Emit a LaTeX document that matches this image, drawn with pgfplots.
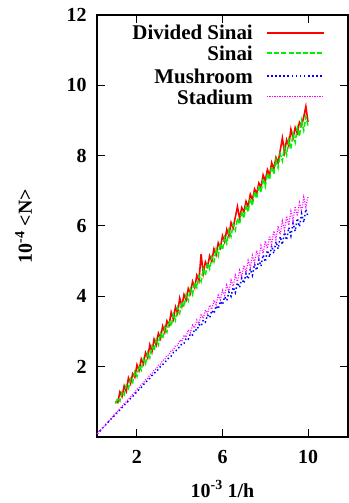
\documentclass[border=0pt]{standalone}
\usepackage{pgfplots}
\pgfplotsset{compat=1.18}
\usepackage{fontspec}
\setmainfont{Liberation Serif}
\definecolor{gpred}{RGB}{255,0,0}
\definecolor{gpgreen}{RGB}{0,240,0}
\definecolor{gpblue}{RGB}{0,0,255}
\definecolor{gpmag}{RGB}{255,0,255}
\tikzset{
  redstyle/.style={draw=gpred, line width=1.6bp},
  greenstyle/.style={draw=gpgreen, line width=1.5bp, dash pattern=on 5bp off 2bp},
  bluestyle/.style={draw=gpblue, line width=1.5bp, dash pattern=on 1.5bp off 2.5bp},
  magstyle/.style={draw=gpmag, line width=1.2bp, dash pattern=on 1bp off 1.5bp},
  legtext/.style={anchor=base east, inner sep=0pt, font=\fontsize{21}{25}\selectfont\bfseries},
}
\begin{document}
\begin{tikzpicture}[font=\fontsize{20}{24}\selectfont\bfseries]
\begin{axis}[
  scale only axis, width=251bp, height=422bp,
  xmin=0.13, xmax=11.87, ymin=0, ymax=12,
  xtick={2,6,10}, ytick={2,4,6,8,10,12},
  tick align=inside, major tick length=8bp,
  axis line style={line width=1.2bp},
  every tick/.style={black, line width=1bp},
  /pgf/number format/assume math mode=true,
  tick label style={font=\fontsize{20}{24}\selectfont\bfseries},
  xticklabel style={yshift=-10bp},
  yticklabel style={xshift=-7bp},
  xlabel={10\textsuperscript{-3} 1/h},
  ylabel={10\textsuperscript{-4} <N>},
  xlabel style={at={(axis description cs:0.5,-0.143)}, anchor=base},
  ylabel style={at={(axis description cs:-0.259,0.5)}, anchor=base, rotate=0},
  clip=false,
]
\addplot[redstyle] coordinates {
(1.0,1.02) (1.1,0.98) (1.2,1.28) (1.3,1.15) (1.4,1.45) (1.5,1.30) (1.6,1.68) (1.7,1.52) (1.8,1.80) (1.9,1.70)
(2.0,2.05) (2.1,1.90) (2.2,2.22) (2.3,2.08) (2.4,2.40) (2.5,2.25) (2.6,2.62) (2.7,2.42) (2.8,2.78) (2.9,2.62)
(3.0,2.95) (3.1,2.80) (3.2,3.15) (3.3,2.98) (3.4,3.30) (3.5,3.18) (3.6,3.55) (3.7,3.35) (3.8,3.70) (3.9,3.52)
(4.0,3.95) (4.1,3.72) (4.2,4.05) (4.3,3.90) (4.4,4.22) (4.5,4.08) (4.6,4.42) (4.7,4.25) (4.8,4.60) (4.9,4.45)
(5.0,5.20) (5.1,4.65) (5.2,4.98) (5.3,4.85) (5.4,5.15) (5.5,5.00) (5.6,5.35) (5.7,5.18) (5.8,5.52) (5.9,5.38)
(6.0,5.72) (6.1,5.55) (6.2,5.90) (6.3,5.72) (6.4,6.10) (6.5,5.95) (6.6,6.25) (6.7,6.55) (6.8,6.22) (6.9,6.52)
(7.0,6.40) (7.1,6.70) (7.2,6.55) (7.3,6.90) (7.4,6.75) (7.5,7.05) (7.6,6.92) (7.7,7.22) (7.8,7.10) (7.9,7.45)
(8.0,7.28) (8.1,7.60) (8.2,7.45) (8.3,7.80) (8.4,7.62) (8.5,7.95) (8.6,7.80) (8.7,8.15) (8.8,8.50) (8.9,8.10)
(9.0,8.45) (9.1,8.28) (9.2,8.75) (9.3,8.50) (9.4,8.80) (9.5,8.65) (9.6,8.95) (9.7,8.85) (9.8,9.10) (9.9,9.40)
(10.0,8.95)
};
\addplot[greenstyle] coordinates {
(1.0,0.95) (1.1,1.10) (1.2,1.02) (1.3,1.28) (1.4,1.20) (1.5,1.48) (1.6,1.38) (1.7,1.65) (1.8,1.55) (1.9,1.85)
(2.0,1.72) (2.1,2.02) (2.2,1.90) (2.3,2.22) (2.4,2.08) (2.5,2.40) (2.6,2.25) (2.7,2.58) (2.8,2.45) (2.9,2.78)
(3.0,2.62) (3.1,2.95) (3.2,2.80) (3.3,3.12) (3.4,2.98) (3.5,3.30) (3.6,3.15) (3.7,3.50) (3.8,3.32) (3.9,3.68)
(4.0,3.52) (4.1,3.85) (4.2,3.70) (4.3,4.05) (4.4,3.88) (4.5,4.22) (4.6,4.05) (4.7,4.40) (4.8,4.25) (4.9,4.58)
(5.0,4.42) (5.1,4.78) (5.2,4.60) (5.3,4.95) (5.4,4.78) (5.5,5.12) (5.6,4.98) (5.7,5.35) (5.8,5.15) (5.9,5.50)
(6.0,5.32) (6.1,5.68) (6.2,5.50) (6.3,5.88) (6.4,5.70) (6.5,6.05) (6.6,5.88) (6.7,6.22) (6.8,6.05) (6.9,6.42)
(7.0,6.22) (7.1,6.60) (7.2,6.40) (7.3,6.78) (7.4,6.58) (7.5,6.98) (7.6,6.78) (7.7,7.15) (7.8,6.95) (7.9,7.35)
(8.0,7.12) (8.1,7.50) (8.2,7.32) (8.3,7.70) (8.4,7.48) (8.5,7.88) (8.6,7.65) (8.7,8.05) (8.8,7.85) (8.9,8.25)
(9.0,8.02) (9.1,8.45) (9.2,8.20) (9.3,8.62) (9.4,8.38) (9.5,8.80) (9.6,8.55) (9.7,9.00) (9.8,8.72) (9.9,9.10)
(10.0,8.85)
};
\addplot[bluestyle] coordinates {
(0.13,0.08) (0.2,0.13) (0.3,0.19) (0.4,0.26) (0.5,0.32) (0.6,0.39) (0.7,0.45) (0.8,0.52) (0.9,0.58)
(1.0,0.64) (1.1,0.71) (1.2,0.77) (1.3,0.84) (1.4,0.90) (1.5,0.97) (1.6,1.02) (1.7,1.10) (1.8,1.15) (1.9,1.23)
(2.0,1.28) (2.1,1.36) (2.2,1.41) (2.3,1.49) (2.4,1.54) (2.5,1.62) (2.6,1.67) (2.7,1.75) (2.8,1.80) (2.9,1.88)
(3.0,1.92) (3.1,2.01) (3.2,2.05) (3.3,2.14) (3.4,2.17) (3.5,2.27) (3.6,2.30) (3.7,2.40) (3.8,2.42) (3.9,2.53)
(4.0,2.55) (4.1,2.66) (4.2,2.66) (4.3,2.81) (4.4,2.78) (4.5,2.94) (4.6,2.90) (4.7,3.07) (4.8,3.03) (4.9,3.20)
(5.0,3.15) (5.1,3.33) (5.2,3.27) (5.3,3.47) (5.4,3.39) (5.5,3.60) (5.6,3.51) (5.7,3.73) (5.8,3.64) (5.9,3.86)
(6.0,3.76) (6.1,3.99) (6.2,3.88) (6.3,4.12) (6.4,4.00) (6.5,4.26) (6.6,4.11) (6.7,4.39) (6.8,4.25) (6.9,4.52)
(7.0,4.37) (7.1,4.65) (7.2,4.49) (7.3,4.78) (7.4,4.60) (7.5,4.92) (7.6,4.74) (7.7,5.04) (7.8,4.86) (7.9,5.18)
(8.0,4.98) (8.1,5.31) (8.2,5.11) (8.3,5.44) (8.4,5.22) (8.5,5.56) (8.6,5.35) (8.7,5.70) (8.8,5.47) (8.9,5.82)
(9.0,5.60) (9.1,5.96) (9.2,5.72) (9.3,6.08) (9.4,5.85) (9.5,6.22) (9.6,5.98) (9.7,6.35) (9.8,6.10) (9.9,6.48)
(10.0,6.25)
};
\addplot[magstyle] coordinates {
(0.13,0.09) (0.2,0.14) (0.3,0.20) (0.4,0.27) (0.5,0.34) (0.6,0.40) (0.7,0.47) (0.8,0.54) (0.9,0.61)
(1.0,0.67) (1.1,0.74) (1.2,0.81) (1.3,0.87) (1.4,0.95) (1.5,1.00) (1.6,1.08) (1.7,1.14) (1.8,1.22) (1.9,1.27)
(2.0,1.36) (2.1,1.40) (2.2,1.49) (2.3,1.54) (2.4,1.63) (2.5,1.67) (2.6,1.77) (2.7,1.80) (2.8,1.90) (2.9,1.94)
(3.0,2.04) (3.1,2.07) (3.2,2.18) (3.3,2.20) (3.4,2.32) (3.5,2.33) (3.6,2.46) (3.7,2.47) (3.8,2.60) (3.9,2.60)
(4.0,2.76) (4.1,2.71) (4.2,2.90) (4.3,2.84) (4.4,3.05) (4.5,2.97) (4.6,3.18) (4.7,3.10) (4.8,3.33) (4.9,3.23)
(5.0,3.47) (5.1,3.37) (5.2,3.61) (5.3,3.50) (5.4,3.75) (5.5,3.63) (5.6,3.89) (5.7,3.77) (5.8,4.03) (5.9,3.90)
(6.0,4.17) (6.1,4.03) (6.2,4.32) (6.3,4.16) (6.4,4.46) (6.5,4.29) (6.6,4.60) (6.7,4.42) (6.8,4.74) (6.9,4.56)
(7.0,4.88) (7.1,4.68) (7.2,5.02) (7.3,4.82) (7.4,5.16) (7.5,4.96) (7.6,5.30) (7.7,5.08) (7.8,5.44) (7.9,5.22)
(8.0,5.57) (8.1,5.36) (8.2,5.72) (8.3,5.48) (8.4,5.86) (8.5,5.62) (8.6,6.00) (8.7,5.76) (8.8,6.14) (8.9,5.88)
(9.0,6.28) (9.1,6.02) (9.2,6.42) (9.3,6.16) (9.4,6.56) (9.5,6.28) (9.6,6.66) (9.7,6.42) (9.8,6.82) (9.9,6.54)
(10.0,6.86)
};
% legend samples drawn as filled pieces (gnuplot style: text right-aligned, sample on the right)
\fill[gpred] ([yshift=-0.9bp]axis description cs:0.677,0.9566) rectangle ([yshift=0.9bp]axis description cs:0.904,0.9566);
\pgfplotsinvokeforeach{0,...,7}{
  \fill[gpgreen] ([xshift=#1*7.2bp, yshift=-0.8bp]axis description cs:0.677,0.9100) rectangle ++(5bp,1.6bp);
}
\pgfplotsinvokeforeach{0,...,13}{
  \fill[gpblue] ([xshift=#1*4.1bp, yshift=-0.8bp]axis description cs:0.677,0.8555) rectangle ++(1.6bp,1.6bp);
}
\pgfplotsinvokeforeach{0,...,22}{
  \fill[gpmag] ([xshift=#1*2.5bp, yshift=-0.65bp]axis description cs:0.677,0.8065) rectangle ++(1.2bp,1.3bp);
}
\node[legtext] at (axis description cs:0.6215,0.9408) {Divided Sinai};
\node[legtext] at (axis description cs:0.6215,0.8910) {Sinai};
\node[legtext] at (axis description cs:0.6215,0.8365) {Mushroom};
\node[legtext] at (axis description cs:0.6215,0.7891) {Stadium};
\end{axis}
\pgfresetboundingbox
\path (-97bp,-66bp) rectangle (252bp,437bp);
\end{tikzpicture}
\end{document}
